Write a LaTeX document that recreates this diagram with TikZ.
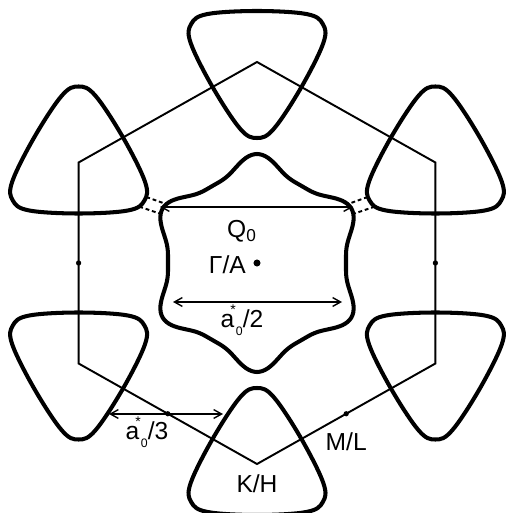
\documentclass[tikz,border=0pt]{standalone}
\usepackage{fontspec}
\setmainfont{Liberation Sans}
\usetikzlibrary{arrows.meta,positioning,calc}

\begin{document}
\begin{tikzpicture}[x=0.02cm, y=0.02cm,
    declare function={gr(\t)=97-10*cos(6*\t)+2*cos(12*\t);},
    pocket/.style={line width=2.3pt, line join=round},
    zone/.style={line width=1.1pt},
    neck/.style={line width=1.1pt, dash pattern=on 2.2pt off 1.6pt},
    span/.style={{Straight Barb[length=4.5pt,width=5pt]}-{Straight Barb[length=4.5pt,width=5pt]}, line width=0.8pt},
    dot/.style={circle, fill, inner sep=0pt, minimum size=3pt},
    lbl/.style={font=\fontsize{14}{16}\selectfont, inner sep=1pt}
  ]
    \useasboundingbox (-257,-250) rectangle (248,263);
    \coordinate (G) at (0,0);
    \foreach \i/\a in {1/30,2/90,3/150,4/210,5/270,6/330}
      \coordinate (K\i) at (\a:206 and 201);

    \draw[zone] (K1) -- (K2) -- (K3) -- (K4) -- (K5) -- (K6) -- cycle;

    \foreach \i/\a in {1/30,2/90,3/150,4/210,5/270,6/330}
      \draw[pocket, shift={(K\i)}, rotate=\a] plot[smooth cycle, tension=0.6] coordinates {
        (166:69) (180:76) (194:69) (240:51) (286:69) (300:76) (314:69) (0:51)
        (46:69) (60:76) (74:69) (120:51)};
    \draw[pocket] plot[smooth cycle, domain=0:357, samples=120, variable=\t]
      ({gr(\t)*cos(\t)}, {gr(\t)*sin(\t)});

    \draw[neck] ($(K3)+(333:76)$) -- ($(G)+(147:108)$);
    \draw[neck] ($(K3)+(324:75)$) -- ($(G)+(153:108)$);
    \draw[neck] ($(K1)+(207:76)$) -- ($(G)+(33:108)$);
    \draw[neck] ($(K1)+(216:75)$) -- ($(G)+(27:108)$);

    \node[dot, minimum size=4pt] (gdot) at (G) {};
    \node[dot] (m1) at ($(K6)!0.5!(K1)$) {};
    \node[dot] (m2) at ($(K3)!0.5!(K4)$) {};
    \node[dot] (m3) at ($(K4)!0.5!(K5)$) {};
    \node[dot] (m4) at ($(K5)!0.5!(K6)$) {};

    \coordinate (qw) at (-97,56);
    \coordinate (qe) at (96,56);
    \coordinate (hw) at (-84,-39);
    \coordinate (he) at (85,-39);
    \coordinate (tw) at (-148,-151);
    \coordinate (te) at (-34,-151);
    \draw[span] (qw) -- (qe);
    \draw[span] (hw) -- (he);
    \draw[span] (tw) -- (te);

    \node[lbl] (q) at (-15,32) {Q\textsubscript{0}};
    \node[lbl, left=3pt of gdot, yshift=-1pt] (ga) {Γ/A};
    \node[lbl] (half) at (-15,-57) {a\kern-2.2pt\raisebox{1.0ex}{\footnotesize *}\raisebox{-0.6ex}{\scriptsize 0}/2};
    \node[lbl] (third) at (-110,-169) {a\kern-2.2pt\raisebox{1.0ex}{\footnotesize *}\raisebox{-0.6ex}{\scriptsize 0}/3};
    \node[lbl, below=8pt of m4] (ml) {M/L};
    \node[lbl, below=5pt of K5] (kh) {K/H};
  \end{tikzpicture}
\end{document}
